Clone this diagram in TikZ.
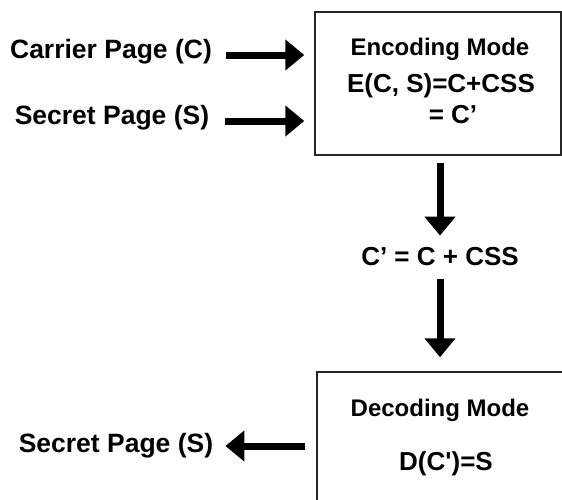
\documentclass[tikz,border=0pt]{standalone}
\usepackage{fontspec}
\setmainfont{Liberation Sans}
\usepackage{tikz}
\usetikzlibrary{positioning,arrows.meta}

\tikzset{
  label/.style={font=\bfseries\fontsize{26.5}{30}\selectfont, inner sep=0pt},
  title/.style={font=\bfseries\fontsize{24}{28}\selectfont, inner sep=0pt},
  formula/.style={font=\bfseries\fontsize{26}{30}\selectfont, inner sep=0pt},
  modebox/.style={draw=black!85, line width=1.5pt, inner sep=0pt},
  bigarrow/.style={line width=7pt, -{Triangle[length=19pt,width=30pt]}}
}

\begin{document}
\begin{tikzpicture}[x=1pt, y=-1pt]

    % page size of the original picture
    \clip (0,0) rectangle (562,499);
    \fill[white] (0,0) rectangle (562,499);

    % Boxes for the two modes (the lower one runs off the page)
    \node[modebox, minimum width=246pt, minimum height=143pt] (encbox) at (438,83.5) {};
    \node[modebox, minimum width=260pt, minimum height=160pt] (decbox) at (447,452) {};

    % Texts inside the boxes
    \node[title] (enctitle) at (440,49) {Encoding Mode};
    \node[formula] (encform) at (441,86) {E(C, S)=C+CSS};
    \node[formula] (encres) at (453,115) {= C’};
    \node[title] (dectitle) at (440,410) {Decoding Mode};
    \node[formula] (decform) at (446,464) {D(C\textquotesingle)=S};

    % Labels on the left
    \node[label] (carrier) at (111,52) {Carrier Page (C)};
    \node[label] (secret) at (112,118) {Secret Page (S)};
    \node[label] (secretout) at (116,446) {Secret Page (S)};

    % Text between the boxes
    \node[formula] (cprime) at (440,257) {C’ = C + CSS};

    % Arrows into and out of the boxes
    \draw[bigarrow] ([xshift=14pt, yshift=-3pt]carrier.east) -- ([xshift=-10pt, yshift=-3pt]carrier.east -| encbox.west);
    \draw[bigarrow] ([xshift=16pt, yshift=-3pt]secret.east) -- ([xshift=-10pt, yshift=-3pt]secret.east -| encbox.west);
    \draw[bigarrow] ([yshift=-7pt]encbox.south -| cprime.north) -- ([yshift=12pt]cprime.north);
    \draw[bigarrow] ([yshift=-13pt]cprime.south) -- ([yshift=14pt]decbox.north -| cprime.south);
    \draw[bigarrow] ([xshift=-11pt]decbox.west |- secretout.east) -- ([xshift=12pt]secretout.east);

\end{tikzpicture}
\end{document}
